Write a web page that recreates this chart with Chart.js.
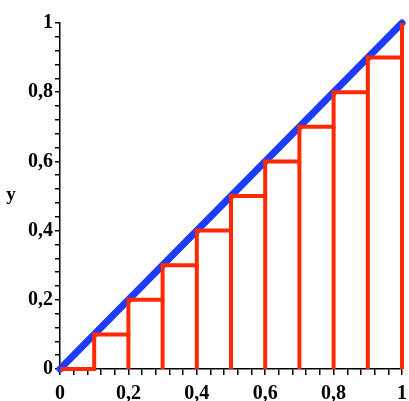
<!DOCTYPE html>
<html>
<head>
<meta charset="utf-8">
<script src="https://cdn.jsdelivr.net/npm/chart.js@4"></script>
<style>
  html, body { margin: 0; padding: 0; background: #fff; }
  #wrap { width: 409px; height: 401px; }
</style>
</head>
<body>
<div id="wrap"><canvas id="c"></canvas></div>
<script>
// partition points and f(x) = x at each of them
const partitionX = [0, 0.1, 0.2, 0.3, 0.4, 0.5, 0.6, 0.7, 0.8, 0.9, 1];
const stepValues = [0, 0.1, 0.2, 0.3, 0.4, 0.5, 0.6, 0.7, 0.8, 0.9, 1];
// the line y = x
const lineX = [0, 1];
const lineY = [0, 1];
// labelled ticks (decimal comma)
const majorTicks = [0, 0.2, 0.4, 0.6, 0.8, 1];
const tickLabels = ['0', '0,2', '0,4', '0,6', '0,8', '1'];

const RED = '#ff2a00';
const BLUE = '#1e3cff';
const FONT = { family: '"Liberation Serif", "DejaVu Serif", serif', size: 20, weight: 'bold' };

function labelFor(v) {
  const i = majorTicks.findIndex(t => Math.abs(t - v) < 1e-6);
  return i >= 0 ? tickLabels[i] : '';
}

// vertical sides of the boxes, from 0 up to the step value
const sides = [];
for (let i = 1; i < partitionX.length; i++) {
  sides.push({ x: partitionX[i], y: 0 });
  sides.push({ x: partitionX[i], y: stepValues[i - 1] });
  sides.push({ x: partitionX[i], y: null });
}

const yTitle = {
  id: 'yTitle',
  afterDraw(chart) {
    const ctx = chart.ctx;
    ctx.save();
    ctx.font = 'bold 19px "Liberation Serif", serif';
    ctx.fillStyle = '#000';
    ctx.textAlign = 'center';
    ctx.textBaseline = 'middle';
    ctx.fillText('y', 11, 195);
    ctx.restore();
  }
};

new Chart(document.getElementById('c'), {
  type: 'line',
  data: {
    datasets: [
      {
        data: partitionX.map((x, i) => ({ x: x, y: stepValues[i] })),
        stepped: true,
        borderColor: RED,
        borderWidth: 4,
        pointRadius: 0,
        clip: false
      },
      {
        data: sides,
        borderColor: RED,
        borderWidth: 4,
        pointRadius: 0,
        spanGaps: false,
        clip: false
      },
      {
        data: lineX.map((x, i) => ({ x: x, y: lineY[i] })),
        borderColor: BLUE,
        borderWidth: 7,
        borderCapStyle: 'round',
        pointRadius: 0,
        clip: false
      }
    ]
  },
  options: {
    responsive: true,
    maintainAspectRatio: false,
    animation: false,
    layout: { padding: { top: 23, right: 7, left: 0, bottom: 0 } },
    plugins: { legend: { display: false }, tooltip: { enabled: false } },
    scales: {
      x: {
        type: 'linear',
        min: 0, max: 1,
        border: { color: '#000', width: 1.5 },
        grid: { drawOnChartArea: false, color: '#000', tickLength: 6, lineWidth: 1.5 },
        ticks: {
          stepSize: 0.04, autoSkip: false, maxRotation: 0, padding: 7,
          color: '#000', font: FONT,
          callback: v => labelFor(v)
        },
        afterFit: s => { s.height = 32; s.paddingLeft = 0; s.paddingRight = 0; }
      },
      y: {
        type: 'linear',
        min: 0, max: 1,
        border: { color: '#000', width: 1.5 },
        grid: { drawOnChartArea: false, color: '#000', tickLength: 5, lineWidth: 1.5 },
        ticks: {
          stepSize: 0.04, autoSkip: false, padding: 2,
          color: '#000', font: FONT,
          callback: v => labelFor(v)
        },
        afterFit: s => { s.width = 60; }
      }
    }
  },
  plugins: [yTitle]
});
</script>
</body>
</html>
